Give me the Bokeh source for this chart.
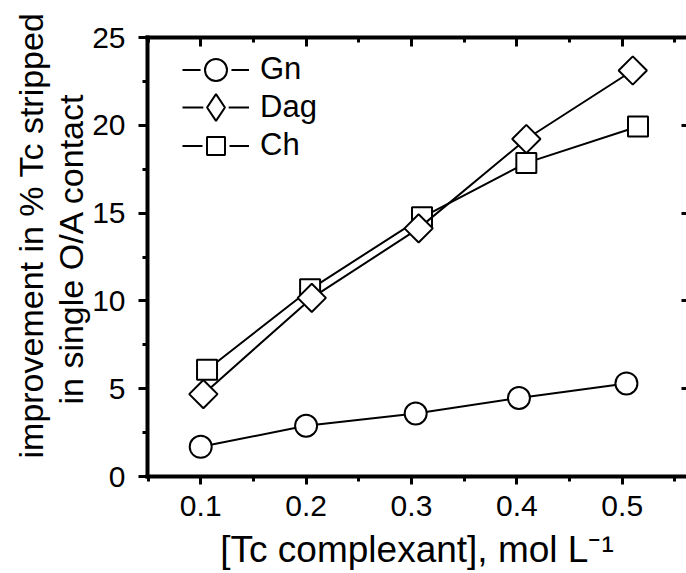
from bokeh.plotting import figure
from bokeh.models import (Range1d, LinearAxis, FixedTicker, Legend, LegendItem,
                          ColumnDataSource, CustomJSTickFormatter, Title)
from bokeh.embed import file_html
from bokeh.resources import INLINE
import math

# ---- data ----
series_names = ["Gn", "Dag", "Ch"]
gn_x = [0.100, 0.200, 0.304, 0.402, 0.504]
gn_y = [1.69, 2.89, 3.59, 4.47, 5.30]
dag_x = [0.1025, 0.2054, 0.3068, 0.409, 0.510]
dag_y = [4.69, 10.17, 14.13, 19.22, 23.12]
ch_x = [0.106, 0.2038, 0.310, 0.409, 0.515]
ch_y = [6.08, 10.66, 14.76, 17.86, 19.93]

x_major = [0.1, 0.2, 0.3, 0.4, 0.5]
x_minor = [0.05, 0.15, 0.25, 0.35, 0.45, 0.55]
y_major = [0, 5, 10, 15, 20, 25]
y_minor = [2.5, 7.5, 12.5, 17.5, 22.5]

x_title = "[Tc complexant], mol L\u207b\u00b9"
y_title_lines = ["improvement in % Tc stripped", "in single O/A contact"]

FONT = "Liberation Sans"

p = figure(width=686, height=573, output_backend="svg", toolbar_location=None,
           x_range=Range1d(0.0495, 0.561), y_range=Range1d(0, 25),
           min_border_left=147, min_border_right=0, min_border_top=37,
           min_border_bottom=97)
p.outline_line_color = None
p.xgrid.visible = False
p.ygrid.visible = False
p.background_fill_color = "white"
p.border_fill_color = "white"


def style_axis(ax):
    ax.axis_line_color = "black"
    ax.axis_line_width = 4
    ax.axis_line_cap = "square"
    ax.major_tick_line_color = "black"
    ax.minor_tick_line_color = "black"
    ax.major_tick_line_width = 3
    ax.minor_tick_line_width = 3
    ax.major_label_text_font = FONT
    ax.major_label_text_color = "black"
    ax.major_label_text_font_size = "30px"
    ax.axis_label_text_font = FONT
    ax.axis_label_text_font_style = "normal"
    ax.axis_label_text_color = "black"


xa = p.xaxis[0]
style_axis(xa)
xa.ticker = FixedTicker(ticks=x_major, minor_ticks=x_minor)
xa.major_tick_in = 0
xa.major_tick_out = 8
xa.minor_tick_in = 0
xa.minor_tick_out = 5
xa.major_label_standoff = 11
xa.axis_label = x_title
xa.axis_label_text_font_size = "37px"
xa.axis_label_standoff = 10

ya = p.yaxis[0]
style_axis(ya)
ya.ticker = FixedTicker(ticks=y_major, minor_ticks=y_minor)
ya.major_tick_in = 0
ya.major_tick_out = 9
ya.minor_tick_in = 0
ya.minor_tick_out = 5
ya.major_label_standoff = 13

# the two lines of the y title, stacked outward from the axis
# (anchored at the frame bottom and lifted by `offset`)
for txt, off in ((y_title_lines[1], 72), (y_title_lines[0], 18)):
    t = Title(text=txt, align="left", offset=off, standoff=0,
              text_font=FONT, text_font_size="34px", text_font_style="normal",
              text_color="black")
    p.add_layout(t, "left")

empty = CustomJSTickFormatter(code="return ''")

ta = LinearAxis(ticker=FixedTicker(ticks=x_major, minor_ticks=x_minor), formatter=empty)
style_axis(ta)
ta.major_tick_in = 9
ta.major_tick_out = 0
ta.minor_tick_in = 5
ta.minor_tick_out = 0
ta.major_label_text_font_size = "0px"
ta.major_label_standoff = 0
p.add_layout(ta, "above")

ra = LinearAxis(ticker=FixedTicker(ticks=y_major, minor_ticks=[]), formatter=empty)
style_axis(ra)
ra.axis_line_color = None
ra.major_tick_in = 5
ra.major_tick_out = 0
ra.minor_tick_line_color = None
ra.major_label_text_font_size = "0px"
ra.major_label_standoff = 0
p.add_layout(ra, "right")

src_gn = ColumnDataSource(dict(x=gn_x, y=gn_y))
src_dag = ColumnDataSource(dict(x=dag_x, y=dag_y))
src_ch = ColumnDataSource(dict(x=ch_x, y=ch_y))

# Ch first, then Dag on top, then Gn
ch_line = p.line("x", "y", source=src_ch, line_color="black", line_width=2)
ch_pts = p.scatter("x", "y", source=src_ch, marker="square", size=20,
                   fill_color="white", line_color="black", line_width=2)
dag_line = p.line("x", "y", source=src_dag, line_color="black", line_width=2)
dag_pts = p.scatter("x", "y", source=src_dag, marker="square", size=20, angle=math.pi / 4,
                    fill_color="white", line_color="black", line_width=2)
gn_line = p.line("x", "y", source=src_gn, line_color="black", line_width=2)
gn_pts = p.scatter("x", "y", source=src_gn, marker="circle", size=22,
                   fill_color="white", line_color="black", line_width=2)


def legend_only(src, marker, color, width):
    r = p.scatter("x", "y", source=src, marker=marker, size=20,
                  fill_color="white", line_color=color, line_width=width)
    r.visible = False
    return r


# white halos give the gap between the key line and the key marker
gn_halo = legend_only(src_gn, "circle", "white", 9)
dag_halo = legend_only(src_dag, "diamond", "white", 9)
ch_halo = legend_only(src_ch, "square", "white", 9)
# legend-only diamond (Bokeh's legend ignores a marker's angle)
dag_key = legend_only(src_dag, "diamond", "black", 2)

# one legend per entry; the key marker is 0.4 x the glyph box height
rows = [(series_names[0], [gn_line, gn_halo, gn_pts], 55, 69),
        (series_names[1], [dag_line, dag_halo, dag_key], 68, 107),
        (series_names[2], [ch_line, ch_halo, ch_pts], 45, 145)]
for name, rends, gh, yc in rows:
    lg = Legend(items=[LegendItem(label=name, renderers=rends)],
                location=(35, 476 - 37 - yc + 37 - gh / 2), glyph_width=67, glyph_height=gh,
                spacing=0, padding=0, margin=0, label_standoff=11,
                label_text_font=FONT, label_text_font_size="31px", label_text_color="black",
                border_line_color=None, background_fill_alpha=0)
    p.add_layout(lg)

open("out.html", "w").write(file_html(p, INLINE))
